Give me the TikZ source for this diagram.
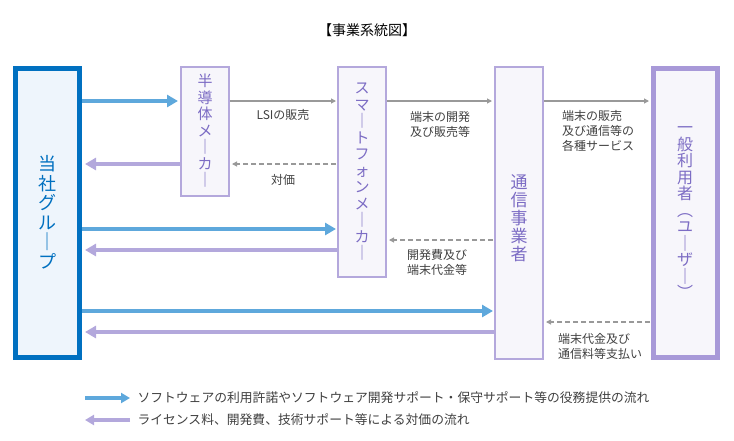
\documentclass[tikz,border=0pt]{standalone}
\usepackage{fontspec}
\setmainfont{Noto Sans CJK JP}
\begin{document}
\begin{tikzpicture}[x=1pt,y=-1pt,
 sbox/.style={draw=purp,line width=2pt,fill=boxf},
 vt/.style={font=\fontsize{15}{16.5}\selectfont,align=center,text=vtc},
 lab/.style={font=\fontsize{12}{15}\selectfont,align=left,text=black!75},
 blue/.style={draw=bl,line width=4.5pt,-{Triangle[length=11pt,width=12pt]}},
 pur/.style={draw=pa,line width=4.5pt,-{Triangle[length=11pt,width=12pt]}},
 gr/.style={draw=gray!80,line width=1.1pt,-{Triangle[length=5pt,width=5pt]}},
 grd/.style={gr,dashed,dash pattern=on 5pt off 3pt}]
\usetikzlibrary{arrows.meta}
\definecolor{purp}{HTML}{B4A8DC}\definecolor{boxf}{HTML}{F7F6FB}
\definecolor{vtc}{HTML}{7C6CC4}\definecolor{bl}{HTML}{5EA8DC}\definecolor{pa}{HTML}{B3A8DC}
\definecolor{db}{HTML}{0070C0}\definecolor{lb}{HTML}{EEF5FC}\definecolor{up}{HTML}{A899D8}
\useasboundingbox (0,0) rectangle (734,440);
\node[font=\fontsize{14}{16}\selectfont] (title) at (367,30) {【事業系統図】};
\draw[draw=db,line width=5pt,fill=lb] (15.5,68.5) rectangle (79.5,357.5);
\node (tosha) at (47,212) {};
\node[vt,text=db,font=\fontsize{18}{19.5}\selectfont] at (47,212) {当\\社\\グ\\ル\\｜\\プ};
\draw[sbox] (181,67) rectangle (229,196); \node (hand) at (205,131) {};
\node[vt] at (205,131) {半\\導\\体\\メ\\｜\\カ\\｜};
\draw[sbox] (338,67) rectangle (386,277); \node (smart) at (362,171) {};
\node[vt] at (362,172) {ス\\マ\\｜\\ト\\フ\\ォ\\ン\\メ\\｜\\カ\\｜};
\draw[sbox] (495,67) rectangle (543,359); \node (tsushin) at (519,213) {};
\node[vt,font=\fontsize{17}{18}\selectfont] at (519,218) {通\\信\\事\\業\\者};
\draw[draw=up,line width=5pt,fill=boxf] (653.5,68.5) rectangle (717.5,357.5);
\node (user) at (685,213) {};
\node[vt,font=\fontsize{16}{16.5}\selectfont] at (685,213) {一\\般\\利\\用\\者\\︵\\ユ\\｜\\ザ\\｜\\︶};
% arrows
\draw[blue] (82,101) -- (178,101);
\draw[pur] (180,164) -- (85,164);
\draw[gr] (230,101) -- (336,101);
\draw[grd] (336,164) -- (232,164);
\draw[blue] (82,229) -- (336,229);
\draw[pur] (337,250) -- (85,250);
\draw[gr] (387,101) -- (492,101);
\draw[grd] (493,240) -- (389,240);
\draw[blue] (82,311) -- (493,311);
\draw[pur] (494,332) -- (85,332);
\draw[gr] (544,101) -- (649,101);
\draw[grd] (650,322) -- (546,322);
\node[lab] (l1) at (283,115) {LSIの販売};
\node[lab] (l2) at (283,180) {対価};
\node[lab] (l3) at (440,124) {端末の開発\\及び販売等};
\node[lab] (l4) at (437,262) {開発費及び\\端末代金等};
\node[lab] (l5) at (598,131) {端末の販売\\及び通信等の\\各種サービス};
\node[lab] (l6) at (600,346) {端末代金及び\\通信料等支払い};
% legend
\draw[blue,line width=4pt,-{Triangle[length=9pt,width=10pt]}] (85,398) -- (130,398);
\draw[pur,line width=4pt,-{Triangle[length=9pt,width=10pt]}] (130,420) -- (85,420);
\node[lab,anchor=west,font=\fontsize{12.8}{15}\selectfont] (lg1) at (134,398) {ソフトウェアの利用許諾やソフトウェア開発サポート・保守サポート等の役務提供の流れ};
\node[lab,anchor=west,font=\fontsize{12.8}{15}\selectfont] (lg2) at (134,420) {ライセンス料、開発費、技術サポート等による対価の流れ};
\end{tikzpicture}
\end{document}
